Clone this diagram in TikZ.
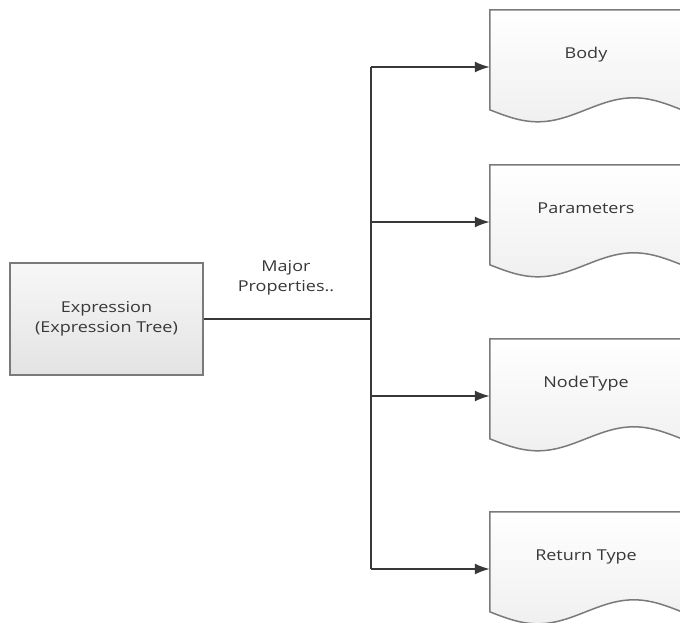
\documentclass[tikz,border=0pt]{standalone}
\usepackage{fontspec}
\setmainfont{Open Sans}[FakeStretch=1.2]
\usetikzlibrary{arrows.meta}
\usetikzlibrary{backgrounds}
\usepackage{xcolor}
\definecolor{txtgray}{HTML}{383838}
\definecolor{edgegray}{HTML}{7A7A7A}
\tikzset{
  exprbox/.style={draw=edgegray, line width=1.5pt, top color=black!3, bottom color=black!11,
    minimum width=193pt, minimum height=112pt, align=center},
  docnode/.style={minimum width=192pt, minimum height=114pt, inner sep=0pt,
    text height=11pt, text depth=29pt},
  docedge/.style={draw=edgegray, line width=1.5pt, top color=white, bottom color=black!6},
  link/.style={draw=txtgray, line width=1.8pt},
  arr/.style={link, -{Latex[length=15pt,width=11pt]}},
}

\begin{document}
\begin{tikzpicture}[x=1pt, y=-1pt, font=\fontsize{15}{20}\selectfont, text=txtgray]
		\useasboundingbox (0,0) rectangle (680,622) ;
\par
\node[exprbox] (expr) at (106.5,319) {Expression\\(Expression Tree)} ;
		\node[align=center] (major) at (286,278) {Major\\Properties..} ;
\par
\node[docnode] (body) at (586,67) {Body} ;
		\node[docnode] (params) at (586,222) {Parameters} ;
		\node[docnode] (ntype) at (586,396) {NodeType} ;
		\node[docnode] (rtype) at (586,569) {Return Type} ;
\par
\coordinate (split) at (371,319) ;
		\draw[link] (expr.east) -- (split) ;
		\draw[link] (split |- body.west) -- (split |- rtype.west) ;
		\foreach \d in {body,params,ntype,rtype}
			\draw[arr] (split |- \d.west) -- (\d.west) ;
\par
\begin{scope}[on background layer]
			\clip (0,0) rectangle (680,622) ;
			\foreach \d in {body,params,ntype,rtype}
				\draw[docedge, shift={(\d.north west)}] (0,0) -- (192,0) -- (192,100)
					sin (144,88) cos (96,100) sin (48,112) cos (0,100) -- cycle ;
		\end{scope}
	\end{tikzpicture}
\end{document}
